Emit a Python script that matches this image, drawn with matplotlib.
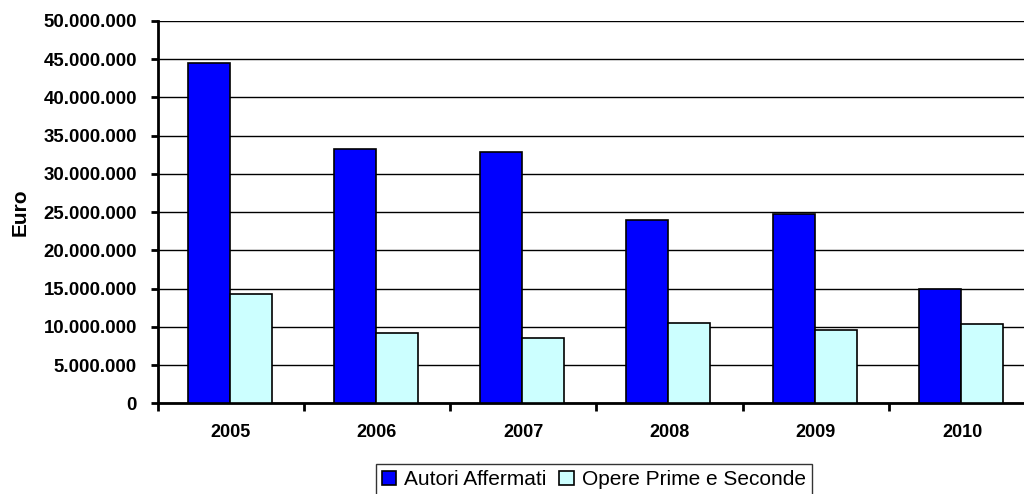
import numpy as np
import matplotlib.pyplot as plt
from matplotlib.ticker import FuncFormatter, FixedLocator

plt.rcParams['font.family'] = ['Liberation Sans', 'DejaVu Sans']

# yearly funding, euro
anni = ['2005', '2006', '2007', '2008', '2009', '2010']
autori_affermati = [44550000, 33200000, 32900000, 24000000, 24750000, 14900000]
opere_prime_seconde = [14350000, 9200000, 8600000, 10500000, 9550000, 10350000]


def euro_fmt(v, pos):
    return f'{int(round(v)):,}'.replace(',', '.')


fig = plt.figure(figsize=(10.24, 4.94), dpi=100)
ax = fig.add_axes([0.1539, 0.1836, 0.857, 0.774])

x = np.arange(len(anni))
w = 0.287
off = 30 / 146.2
ax.bar(x - 0.5 + off, autori_affermati, width=w, align='edge', color='#0000FF',
       edgecolor='black', linewidth=1.2, label='Autori Affermati', zorder=3)
ax.bar(x - 0.5 + off + w, opere_prime_seconde, width=w, align='edge', color='#CCFFFF',
       edgecolor='black', linewidth=1.2, label='Opere Prime e Seconde', zorder=3)

ax.set_xlim(-0.5, len(anni) - 0.5)
ax.set_ylim(0, 50000000)
ax.set_yticks(np.arange(0, 50000001, 5000000))
ax.yaxis.set_major_formatter(FuncFormatter(euro_fmt))
ax.grid(axis='y', color='black', linewidth=1.0, zorder=0)

ax.set_xticks(x)
ax.set_xticklabels(anni, fontweight='bold', fontsize=13)
ax.xaxis.set_minor_locator(FixedLocator(np.arange(-0.5, len(anni), 1.0)))
ax.tick_params(axis='x', which='major', length=0, pad=15)
ax.tick_params(axis='x', which='minor', length=6, width=2, direction='out')
ax.tick_params(axis='y', length=5, width=2, direction='out', pad=10, labelsize=13.4)
for lab in ax.get_yticklabels():
    lab.set_fontweight('bold')

for s in ['top', 'right']:
    ax.spines[s].set_visible(False)
ax.spines['left'].set_linewidth(2)
ax.spines['bottom'].set_linewidth(2)

ax.set_ylabel('Euro', fontweight='bold', fontsize=15, labelpad=10)

leg = fig.legend(loc='upper center', bbox_to_anchor=(0.580, 0.0607), ncol=2,
                 fontsize=15, frameon=True, fancybox=False, edgecolor='black',
                 handlelength=0.68, handleheight=0.68, handletextpad=0.4,
                 columnspacing=0.6, borderpad=0.3, borderaxespad=0)
leg.get_frame().set_linewidth(1.0)

fig.savefig('out.png', dpi=100)
